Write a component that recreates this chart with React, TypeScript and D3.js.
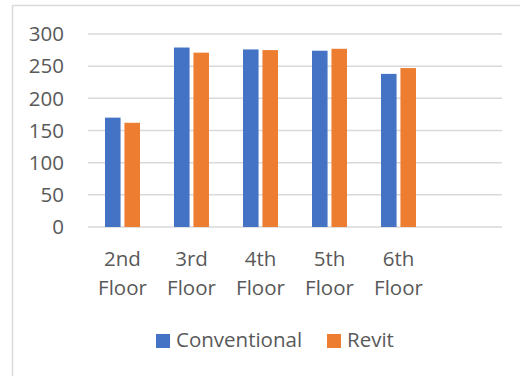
import React from 'react';
import * as d3 from 'd3';

const floors = ['2nd Floor', '3rd Floor', '4th Floor', '5th Floor', '6th Floor'];
const conventional = [170, 279, 276, 274, 238];
const revit = [162, 271, 275, 277, 247];
const yTicks = [0, 50, 100, 150, 200, 250, 300];

const seriesNames = ['Conventional', 'Revit'];
const colors = ['#4472C4', '#ED7D31'];

const width = 520;
const height = 376;
const margin = { top: 34, right: 18, bottom: 149, left: 88 };
const font = '"Open Sans", sans-serif';
const fontSize = 20.5;
const textColor = '#595959';

const App = () => {
  // Excel left an empty sixth slot on the axis
  const x0 = d3.scaleBand()
    .domain([...floors, ''])
    .range([margin.left, width - margin.right])
    .padding(0);

  const half = x0.bandwidth() / 2;
  const x1 = d3.scaleBand()
    .domain(seriesNames)
    .range([half - 17.5, half + 17.5])
    .paddingInner(0.2);

  const y = d3.scaleLinear()
    .domain([0, 300])
    .range([height - margin.bottom, margin.top]);

  const values = [conventional, revit];

  return (
    <svg width={width} height={height} style={{ position: 'absolute', left: 0, top: 0, background: '#fff' }}>
      {/* chart frame (only left/top visible) */}
      <line x1={12.5} x2={12.5} y1={5.5} y2={height} stroke="#d9d9d9" strokeWidth={1.5} />
      <line x1={12.5} x2={width} y1={5.5} y2={5.5} stroke="#d9d9d9" strokeWidth={1.5} />

      {yTicks.map(t => (
        <g key={t}>
          <line
            x1={margin.left} x2={width - margin.right}
            y1={y(t)} y2={y(t)}
            stroke="#d9d9d9" strokeWidth={1.5}
          />
          <text
            x={64} y={y(t)} dy="0.35em"
            textAnchor="end" fontFamily={font} fontSize={fontSize} fill={textColor}
          >{t}</text>
        </g>
      ))}

      {floors.map((f, i) => (
        <g key={f} transform={`translate(${x0(f)},0)`}>
          {seriesNames.map((s, j) => (
            <rect
              key={s}
              x={x1(s)}
              y={y(values[j][i])}
              width={x1.bandwidth()}
              height={y(0) - y(values[j][i])}
              fill={colors[j]}
            />
          ))}
          {f.split(' ').map((word, k) => (
            <text
              key={k}
              x={half} y={266 + k * 29}
              textAnchor="middle" fontFamily={font} fontSize={fontSize} fill={textColor}
            >{word}</text>
          ))}
        </g>
      ))}

      {/* legend */}
      <rect x={156} y={334} width={14} height={14} fill={colors[0]} />
      <text x={176} y={347} fontFamily={font} fontSize={fontSize} fill={textColor}>{seriesNames[0]}</text>
      <rect x={327} y={334} width={14} height={14} fill={colors[1]} />
      <text x={347} y={347} fontFamily={font} fontSize={fontSize} fill={textColor}>{seriesNames[1]}</text>
    </svg>
  );
};

export default App;
